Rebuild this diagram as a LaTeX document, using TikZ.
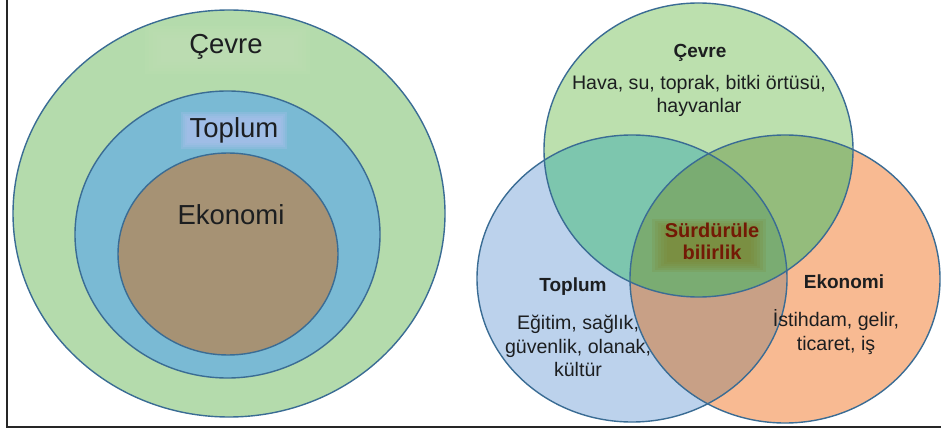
\documentclass[tikz,border=0pt]{standalone}
\usepackage{fontspec}
\setmainfont{Liberation Sans}
\begin{document}
\begin{tikzpicture}[x=1pt,y=-1pt,
  ring/.style={draw=strokec,line width=1.4pt},
  biglbl/.style={text=txtc,font=\fontsize{27.5}{30}\selectfont,inner sep=0pt},
  ttl/.style={text=txtc,font=\bfseries\fontsize{19}{23}\selectfont,inner sep=0pt},
  body/.style={text=txtc,font=\fontsize{19.6}{23.5}\selectfont,inner sep=0pt,align=center},
  core/.style={text=corec,font=\bfseries\fontsize{20}{22}\selectfont,inner sep=0pt,align=center}]
\definecolor{strokec}{RGB}{58,108,148}
\definecolor{txtc}{RGB}{28,30,32}
\definecolor{corec}{RGB}{115,25,5}
\definecolor{gOut}{RGB}{180,219,172}
\definecolor{bMid}{RGB}{122,186,212}
\definecolor{brIn}{RGB}{166,146,116}
\definecolor{cG}{RGB}{188,224,174}
\definecolor{cB}{RGB}{188,210,236}
\definecolor{cO}{RGB}{248,186,146}
\definecolor{cGB}{RGB}{125,198,174}
\definecolor{cGO}{RGB}{148,188,124}
\definecolor{cBO}{RGB}{200,160,134}
\definecolor{cC}{RGB}{122,172,114}
\definecolor{glowc}{RGB}{125,130,45}
\definecolor{tglow}{RGB}{175,192,238}
\definecolor{cglow}{RGB}{200,228,188}
\useasboundingbox (0,0) rectangle (941,430);
\fill[white] (0,0) rectangle (941,430);
% frame
\draw[line width=1.5pt,black!85] (7,0) -- (7,427) -- (941,427);
% ---------- left nested diagram
\fill[gOut] (229,213.5) ellipse [x radius=216pt,y radius=203.5pt];
\foreach \i in {0,...,4}{\fill[cglow,opacity=0.12] (145+\i*4,26+\i*3) rectangle (310-\i*4,74-\i*3);}
\draw[ring] (229,213.5) ellipse [x radius=216pt,y radius=203.5pt];
\filldraw[ring,fill=bMid] (227.5,234.5) ellipse [x radius=152.5pt,y radius=143.5pt];
\foreach \i in {0,...,3}{\fill[tglow,opacity=0.28] (181+\i*2,112+\i*2) rectangle (287-\i*2,149-\i*2);}
\filldraw[ring,fill=brIn] (228,254) ellipse [x radius=110pt,y radius=101pt];
\node[biglbl] (lcevre) at (226,47) {Çevre};
\node[biglbl] (ltoplum) at (234,130) {Toplum};
\node[biglbl] (lekonomi) at (231,215) {Ekonomi};
% ---------- right Venn diagram
\def\TopC{(698.5,150) ellipse [x radius=154.5pt,y radius=147pt]}
\def\LeftC{(632,278.5) ellipse [x radius=155pt,y radius=143.5pt]}
\def\RightC{(785,279) ellipse [x radius=155pt,y radius=144pt]}
\fill[cG] \TopC;
\fill[cB] \LeftC;
\fill[cO] \RightC;
\begin{scope}\clip \TopC; \fill[cGB] \LeftC; \fill[cGO] \RightC; \end{scope}
\begin{scope}\clip \LeftC; \fill[cBO] \RightC; \end{scope}
\begin{scope}\clip \TopC; \clip \LeftC; \fill[cC] \RightC; \end{scope}
\begin{scope}\clip \TopC; \clip \LeftC; \clip \RightC;
  \foreach \i in {0,...,5}{\fill[glowc,opacity=0.16] (652+\i*3,219+\i*2) rectangle (766-\i*3,272-\i*2);}
\end{scope}
\draw[ring] \TopC;
\draw[ring] \LeftC;
\draw[ring] \RightC;
\node[ttl] (rcevre) at (700,53) {Çevre};
\node[body] (rcevretxt) at (699,96) {Hava, su, toprak, bitki örtüsü,\\hayvanlar};
\node[core] (rcore) at (712,241) {Sürdürüle\\bilirlik};
\node[ttl] (rtoplum) at (573,287) {Toplum};
\node[body] (rtoplumtxt) at (578,346) {Eğitim, sağlık,\\güvenlik, olanak,\\kültür};
\node[ttl] (rekonomi) at (844,282) {Ekonomi};
\node[body] (rekonomitxt) at (836,332) {İstihdam, gelir,\\ticaret, iş};
\end{tikzpicture}
\end{document}
